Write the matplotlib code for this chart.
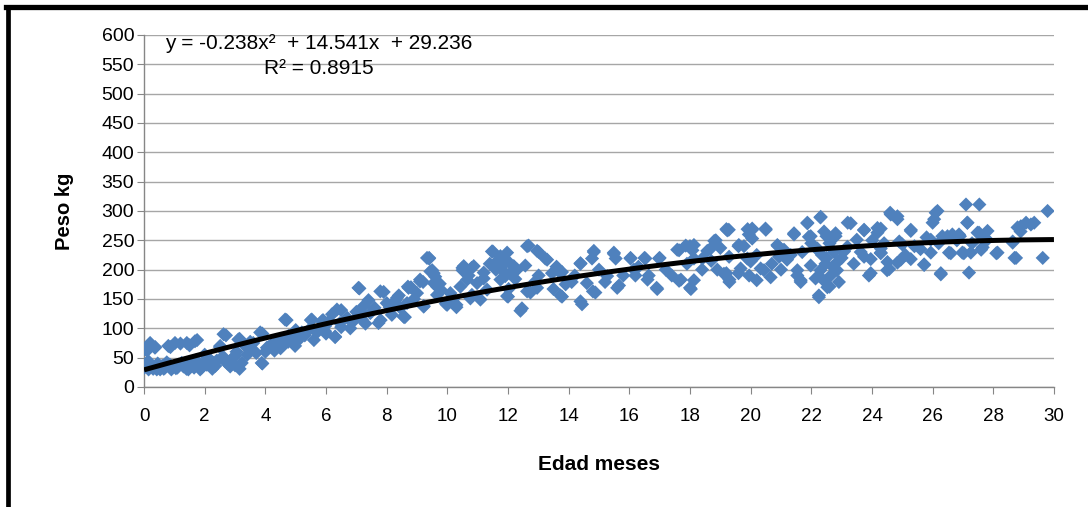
import numpy as np
import matplotlib
matplotlib.use("Agg")
import matplotlib.pyplot as plt
from matplotlib.lines import Line2D

plt.rcParams["font.family"] = ["Liberation Sans", "DejaVu Sans"]

# edad (meses) / peso (kg) in age blocks
edad_a = [0.0, 0.03, 0.2, 0.36, 0.14, 0.42, 0.69, 0.8, 0.97, 1.02, 1.24, 1.41, 1.46, 1.68, 1.79, 1.9,
          2.07, 2.29, 2.62, 2.51, 2.67, 2.84, 3.0, 3.11, 3.33, 3.22, 3.55, 3.83, 3.88, 4.05, 4.32, 4.65,
          4.76, 4.98, 5.2, 5.53, 5.7, 5.97, 6.2,
          0, 0.1, 0.2, 0.37, 0.3, 0.53, 0.87, 0.9, 1.2, 1.4, 1.5, 1.75, 1.6, 1.9, 2.2, 2.25, 2.5, 2.7,
          2.75, 3.0, 3.15, 3.15, 3.5, 3.5, 3.9, 3.9, 4.1, 4.3, 4.7, 4.75, 5.0, 5.1, 5.5, 5.6, 5.9, 6.0,
          0.05, 0.25, 0.45, 0.6, 0.75, 1.05, 1.15, 1.3, 1.55, 1.7, 2.0, 2.15, 2.4, 2.6, 2.9, 3.05, 3.4,
          3.7, 4.0, 4.2, 4.45, 4.6, 4.85, 5.05, 5.3, 5.45, 5.8, 4.5, 3.6, 2.0,
          0.15, 0.5, 0.85, 1.1, 1.35, 1.65, 1.95, 2.35, 0.65, 1.85]
peso_a = [33, 64, 75, 67, 44, 30, 33, 70, 35, 75, 41, 75, 30, 78, 41, 33,
          38, 41, 90, 70, 44, 35, 53, 81, 70, 41, 64, 93, 41, 67, 75, 115,
          87, 70, 93, 115, 93, 104, 124,
          33, 62, 71, 68, 31, 30, 68, 30, 74, 31, 71, 80, 40, 34, 37, 31, 68, 88,
          40, 37, 82, 31, 77, 62, 91, 40, 68, 62, 114, 77, 97, 85, 114, 80, 114, 91,
          38, 36, 40, 36, 42, 32, 38, 35, 36, 45, 42, 48, 45, 52, 48, 60, 55,
          58, 60, 72, 80, 72, 82, 78, 88, 98, 100, 66, 75, 55,
          30, 34, 38, 33, 40, 33, 38, 36, 31, 30]

edad_b = [5.86, 5.97, 6.36, 6.46, 6.3, 7.07, 7.24, 7.18, 7.46, 7.73, 7.79, 8.0, 8.17, 8.34, 8.56, 8.72,
          8.67, 9.1, 9.33, 9.44, 9.55, 9.22, 9.66, 9.99, 10.15, 10.43, 10.54, 10.65, 10.87, 10.81, 11.09,
          11.31, 11.47, 11.53, 11.75, 11.91, 11.97,
          6.3, 6.5, 6.5, 7.1, 7.2, 7.3, 7.4, 7.8, 7.9, 8.1, 8.3, 8.4, 8.6, 8.8, 9.2, 9.4, 9.5, 9.6, 9.75,
          9.95, 10.3, 10.5,
          8.56, 8.7, 9.1, 9.4, 9.55, 9.22, 9.66, 9.99, 10.3, 10.5, 10.8, 10.76, 10.98, 11.5, 11.6, 11.86,
          11.97, 11.75, 12.0,
          6.7, 6.9, 7.0, 7.6, 8.2, 8.9, 9.0, 9.8, 10.1, 10.7, 11.2, 11.4, 11.65, 11.8, 11.9, 11.2, 10.2,
          8.45, 6.1, 6.8]
peso_b = [112, 95, 132, 109, 86, 169, 138, 115, 126, 109, 163, 143, 123, 152, 120, 169,
          143, 180, 220, 197, 177, 138, 157, 140, 152, 171, 206, 183, 206, 157, 149,
          166, 231, 206, 223, 189, 155,
          85, 131, 102, 168, 125, 108, 148, 114, 162, 136, 148, 156, 119, 170, 179, 219, 199, 188, 176,
          142, 136, 199,
          120, 171, 183, 220, 194, 137, 171, 143, 140, 203, 203, 151, 177, 231, 200, 220,
          229, 183, 154,
          118, 112, 128, 135, 140, 150, 160, 165, 160, 190, 185, 210, 215, 200, 212, 195, 150,
          135, 112, 100]

edad_c = [12.19, 12.46, 12.63, 12.96, 13.29, 12.63, 12.96, 13.45, 13.78, 13.73, 14.39, 14.39, 14.83,
          14.6, 14.8, 15.27, 15.49, 15.6, 16.04, 16.15, 16.5, 16.6, 16.9, 17.0, 17.58, 18.0, 17.7, 18.0,
          12.02, 12.02, 12.24, 12.68, 12.57, 13.01, 13.23, 13.01, 12.74, 12.41, 13.5, 13.73, 13.78, 14.1,
          14.39, 14.44, 14.83, 14.77, 14.88, 15.2, 15.49, 15.55, 15.66, 16.04, 16.2, 16.53, 16.64, 16.92,
          16.98, 17.64, 17.86, 17.64, 18.08, 18.03, 18.41,
          12.1, 12.3, 12.9, 13.6, 14.2, 15.0, 15.8, 16.3, 17.2, 17.4, 17.9, 13.9]
peso_c = [206, 134, 240, 232, 217, 163, 169, 194, 154, 194, 211, 146, 232,
          177, 163, 189, 229, 169, 220, 200, 220, 183, 169, 220, 234, 240, 183, 169,
          213, 167, 184, 241, 207, 230, 219, 190, 161, 130, 167, 156, 196, 179,
          210, 141, 230, 219, 161, 179, 227, 219, 173, 219, 190, 219, 190, 167,
          219, 233, 241, 181, 233, 167, 219,
          195, 200, 180, 205, 190, 200, 190, 205, 200, 190, 210, 175]

edad_d = [18.57, 18.8, 18.9, 19.2, 19.3, 19.78, 19.9,
          18.13, 18.13, 18.13, 18.68, 18.85, 19.23, 19.29, 19.12, 19.61, 19.67, 19.95, 20.05, 20.05,
          19.89, 20.49, 20.33, 20.88, 20.94, 20.66, 21.32, 21.43, 21.54, 21.65, 21.87, 21.92, 21.98,
          22.31, 22.25, 22.2, 22.14, 22.42, 22.47, 22.53, 22.64, 22.8, 22.86, 22.75, 22.91, 23.19, 23.3,
          23.63, 23.74, 23.9, 24.01, 24.29, 24.51, 24.29,
          19.28, 19.0, 19.2, 19.3, 19.6, 19.6, 19.94, 20.05, 20.0, 20.2, 20.5, 20.44, 20.9, 21.1, 21.2,
          21.43, 21.54, 21.65, 21.87, 21.98, 22.3, 22.2, 22.3, 22.4, 22.25, 22.5, 22.5, 22.6, 22.8, 22.85,
          23.2, 23.08, 23.5, 23.74, 23.74, 23.96,
          18.4, 18.7, 20.2, 20.7, 21.0, 22.0, 22.6, 22.7, 23.0, 23.4, 21.7, 22.35]
peso_d = [232, 249, 200, 269, 183, 240, 269,
          242, 219, 182, 236, 250, 267, 222, 193, 242, 202, 190, 270, 253,
          219, 270, 202, 242, 222, 187, 225, 262, 190, 179, 279, 256, 207,
          290, 156, 236, 185, 265, 210, 170, 190, 262, 213, 230, 179, 239, 279,
          230, 267, 190, 250, 236, 213, 270,
          268, 237, 194, 179, 240, 194, 260, 268, 214, 182, 268, 199, 240, 234, 217,
          260, 199, 182, 280, 257, 289, 234, 199, 182, 153, 257, 220, 171, 257, 199,
          280, 231, 251, 268, 222, 194,
          200, 215, 225, 210, 200, 245, 245, 205, 220, 210, 230, 225]

edad_e = [23.96, 24.18, 24.29, 24.62, 24.84, 24.57, 24.84, 25.0, 25.28, 25.28, 25.72, 25.94, 26.0,
          26.1, 26.27, 26.32, 26.54, 26.65, 26.87, 26.98, 27.15, 27.1, 27.2, 27.26, 27.54, 27.48, 27.65,
          27.81, 28.14, 28.64, 28.75, 28.8, 29.08, 29.35, 29.63, 29.79,
          24.18, 24.29, 24.5, 24.6, 24.84, 24.9, 24.95, 25.28, 25.4, 25.72, 25.94, 26.05, 26.16, 26.27,
          26.49, 26.6, 26.9, 27.03, 27.14, 27.53, 27.6, 27.8, 28.1, 28.64, 28.7, 28.91, 29.24,
          25.1, 25.6, 26.2, 26.8, 27.3, 27.7, 24.4, 25.8, 28.9]
peso_e = [218, 263, 229, 294, 291, 201, 212, 243, 266, 218, 209, 229, 280,
          297, 192, 257, 229, 260, 260, 229, 280, 311, 195, 229, 311, 263, 238,
          266, 229, 246, 220, 272, 280, 280, 220, 300,
          271, 228, 199, 297, 286, 248, 217, 268, 240, 208, 251, 286, 300, 194,
          257, 228, 257, 228, 280, 263, 234, 251, 228, 248, 220, 274, 277,
          225, 235, 245, 250, 245, 255, 245, 255, 265]

# polynomial trendline as printed on the chart
coef = [-0.238, 14.541, 29.236]
r2 = 0.8915

edad = np.array(edad_a + edad_b + edad_c + edad_d + edad_e)
peso = np.array(peso_a + peso_b + peso_c + peso_d + peso_e)

fig = plt.figure(figsize=(10.88, 5.07), dpi=100)
ax = fig.add_axes([0.1324, 0.2367, 0.8363, 0.6943])

ax.scatter(edad, peso, marker="D", s=52, color="#4F81BD", edgecolors="none", zorder=3)
xs = np.linspace(0, 30, 200)
ax.plot(xs, np.polyval(coef, xs), color="black", lw=3.6, zorder=4, solid_capstyle="butt")

ax.set_xlim(0, 30); ax.set_ylim(0, 600)
ax.set_xticks(range(0, 31, 2)); ax.set_yticks(range(0, 601, 50))
ax.yaxis.grid(True, color="#A6A6A6", lw=1.0); ax.set_axisbelow(True)
for s in ("top", "right"):
    ax.spines[s].set_visible(False)
for s in ("left", "bottom"):
    ax.spines[s].set_color("#868686"); ax.spines[s].set_linewidth(1.0)
ax.tick_params(axis="both", direction="out", length=5, color="#868686")
ax.tick_params(axis="x", pad=10, labelsize=13.5)
ax.tick_params(axis="y", pad=2, labelsize=14)

ax.set_xlabel("Edad meses", fontsize=15, fontweight="bold", labelpad=22)
ax.set_ylabel("Peso kg", fontsize=14.5, fontweight="bold", labelpad=20)

ax.text(0.023, 0.975, "y = -0.238x²  + 14.541x  + 29.236", transform=ax.transAxes,
        fontsize=15, va="center", ha="left")
ax.text(0.132, 0.904, "R² = %.4f" % r2, transform=ax.transAxes, fontsize=15, va="center", ha="left")

# outer chart frame (top and left visible in the crop)
fig.add_artist(Line2D([6 / 1088, 1], [1 - 6.5 / 507] * 2, transform=fig.transFigure, color="black", lw=3.8))
fig.add_artist(Line2D([8 / 1088] * 2, [0, 1 - 6.5 / 507], transform=fig.transFigure, color="black", lw=3.4))

fig.savefig("out.png", dpi=100)
